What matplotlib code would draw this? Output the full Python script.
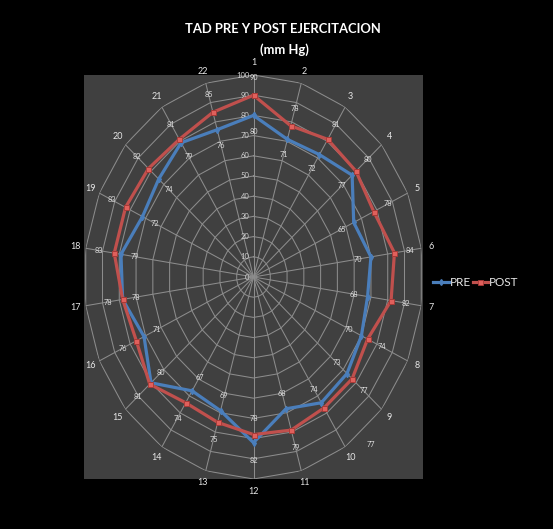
import numpy as np
import matplotlib
matplotlib.use("Agg")
import matplotlib.pyplot as plt
from matplotlib import font_manager
from matplotlib.lines import Line2D
from matplotlib.transforms import ScaledTranslation

# ---- data -------------------------------------------------------------
categories = [str(i) for i in range(1, 23)]
pre = [80, 71, 72, 77, 65, 70, 68, 70, 73, 74, 68, 82, 69, 67, 80, 71, 78, 79, 72, 74, 79, 76]
post = [90, 78, 81, 80, 78, 84, 82, 74, 77, 77, 79, 78, 75, 74, 81, 76, 78, 83, 83, 82, 81, 85]
radial_ticks = list(range(0, 101, 10))
series_names = ["PRE", "POST"]
title_lines = ["TAD PRE Y POST EJERCITACION", "(mm Hg)"]

# ---- fonts ------------------------------------------------------------
available = {f.name for f in font_manager.fontManager.ttflist}
family = next((f for f in ["Liberation Sans Narrow", "Lato", "Open Sans", "DejaVu Sans"]
               if f in available), "DejaVu Sans")
plt.rcParams["font.family"] = [family, "DejaVu Sans"]

BLUE = "#4a7ebb"
RED = "#c0504d"
GRID = "#8c8c8c"
TXT = "#e6e6e6"

W, H = 553, 529
fig = plt.figure(figsize=(W / 100, H / 100), dpi=100, facecolor="black")

# plot-area box (pixels: left, top, right, bottom)
L, T, R, B = 84, 75, 423, 479
box = [L / W, 1 - B / H, (R - L) / W, (B - T) / H]

# grey plot-area background
bg = fig.add_axes(box, zorder=0)
bg.set_facecolor("#404040")
bg.set_xticks([])
bg.set_yticks([])
for s in bg.spines.values():
    s.set_visible(False)

ax = fig.add_axes(box, projection="polar", zorder=1)
ax.set_aspect("auto")
ax.set_facecolor("none")
ax.set_theta_zero_location("N")
ax.set_theta_direction(-1)
ax.set_ylim(0, 100)
ax.grid(False)
ax.spines["polar"].set_visible(False)
ax.set_xticks([])
ax.set_yticks([])

n = len(categories)
theta = np.arange(n) * 2 * np.pi / n
theta_c = np.append(theta, theta[0])

# spider-web grid
for r in radial_ticks[1:]:
    ax.plot(theta_c, [r] * (n + 1), color=GRID, lw=0.75, zorder=1)
for t in theta:
    ax.plot([t, t], [0, 100], color=GRID, lw=0.75, zorder=1)

# radial scale labels along the first spoke
shift_left = ax.transData + ScaledTranslation(-3 / 72, 0, fig.dpi_scale_trans)
for r in radial_ticks:
    ax.text(0, r, str(r), transform=shift_left, ha="right", va="center",
            fontsize=5.5, color="#d0d0d0", zorder=3)

# category labels
for t, c in zip(theta, categories):
    ax.text(t, 106, c, ha="center", va="center", fontsize=6.5, color=TXT, clip_on=False)

# series
pre_c = pre + pre[:1]
post_c = post + post[:1]
ax.plot(theta_c, pre_c, color=BLUE, lw=2.3, marker="d", ms=3, mfc=BLUE, mec=BLUE,
        zorder=4, solid_joinstyle="miter")
ax.plot(theta_c, post_c, color=RED, lw=2.3, marker="s", ms=3.6, mfc="#e0605c", mec="#a83a37",
        mew=0.6, zorder=5, solid_joinstyle="miter")

# value labels: larger value outside, smaller value inside
special = {("post", 9): (-7, 108)}
for i, t in enumerate(theta):
    for key, vals, other in (("pre", pre, post), ("post", post, pre)):
        v, o = vals[i], other[i]
        outer = v > o or (v == o and key == "post")
        r_lab = v + 9 if outer else v - 8
        tt = t
        if (key, i) in special:
            dt, r_lab = special[(key, i)]
            tt = t + np.deg2rad(dt)
        ax.text(tt, r_lab, str(v), ha="center", va="center", fontsize=5.3,
                color="#dcdcdc", zorder=6, clip_on=False)

# legend
handles = [
    Line2D([], [], color=BLUE, lw=2.3, marker="d", ms=3, mfc=BLUE, mec=BLUE),
    Line2D([], [], color=RED, lw=2.3, marker="s", ms=3.6, mfc="#e0605c", mec="#a83a37", mew=0.6),
]
leg = fig.legend(handles, series_names, loc="center", bbox_to_anchor=(476 / W, 1 - 283 / H),
                 ncol=2, frameon=False, fontsize=8.5, handlelength=1.3, handletextpad=0.1,
                 columnspacing=0.15, labelcolor=TXT, borderpad=0)

# title
fig.text(283 / W, 1 - 29 / H, title_lines[0], ha="center", va="center", fontsize=9.4,
         fontweight="bold", color="white")
fig.text(284 / W, 1 - 50 / H, title_lines[1], ha="center", va="center", fontsize=9.4,
         fontweight="bold", color="white")

fig.savefig("out.png", dpi=100, facecolor="black")
